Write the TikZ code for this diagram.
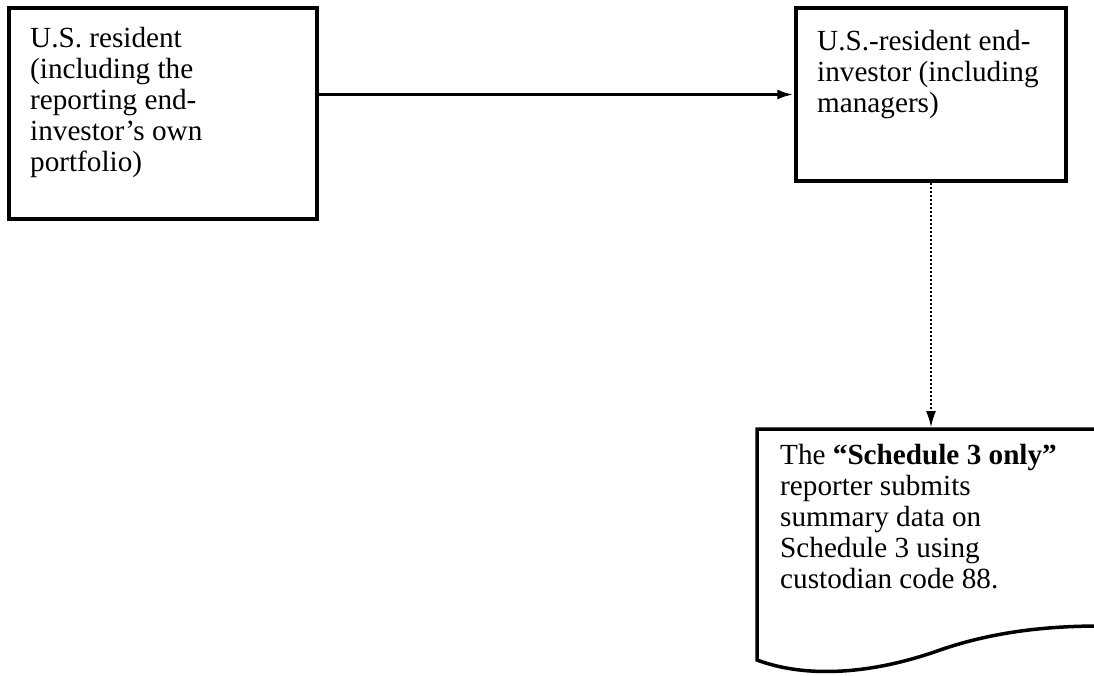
\documentclass[tikz,border=0pt]{standalone}
\usepackage{fontspec}
\setmainfont{Liberation Serif}
\usetikzlibrary{arrows.meta}

\begin{document}
\begin{tikzpicture}[x=1pt, y=-1pt,
    box/.style={rectangle, draw, line width=3.5pt, inner sep=0pt},
    txt/.style={anchor=north west, inner sep=0pt, align=left, font=\fontsize{29.2}{31}\selectfont}]
    \useasboundingbox (0,0) rectangle (1094,675);

    \node[box, minimum width=308pt, minimum height=211pt] (resident) at (163,113.5) {};
    \node[box, minimum width=270pt, minimum height=173pt] (investor) at (931,94.5) {};

    % Dokument-Form
    \draw[line width=3.5pt, line join=miter] (1100,429) -- (757,429) -- (757,660)
        .. controls (805,678) and (870,675) .. (940,650)
        .. controls (995,631) and (1050,626) .. (1100,626);
    \coordinate (report) at (931,427);

    % Pfeile
    \draw[line width=3.5pt, -{Latex[length=17pt,width=10pt]}] (investor.west -| resident.east) -- (investor.west);
    \draw[line width=1.3pt, dash pattern=on 2pt off 2pt, -{Latex[length=16pt,width=10pt]}] (investor.south) -- (report);

    % Texte
    \node[txt] (residenttext) at (30,27) {U.S. resident\\(including the\\reporting end-\\investor’s own\\portfolio)};
    \node[txt] (investortext) at (817,30) {U.S.-resident end-\\investor (including\\managers)};
    \node[txt] (reporttext) at (780,444.5) {The \textbf{“Schedule 3 only”}\\reporter submits\\summary data on\\Schedule 3 using\\custodian code 88.};

\end{tikzpicture}
\end{document}
